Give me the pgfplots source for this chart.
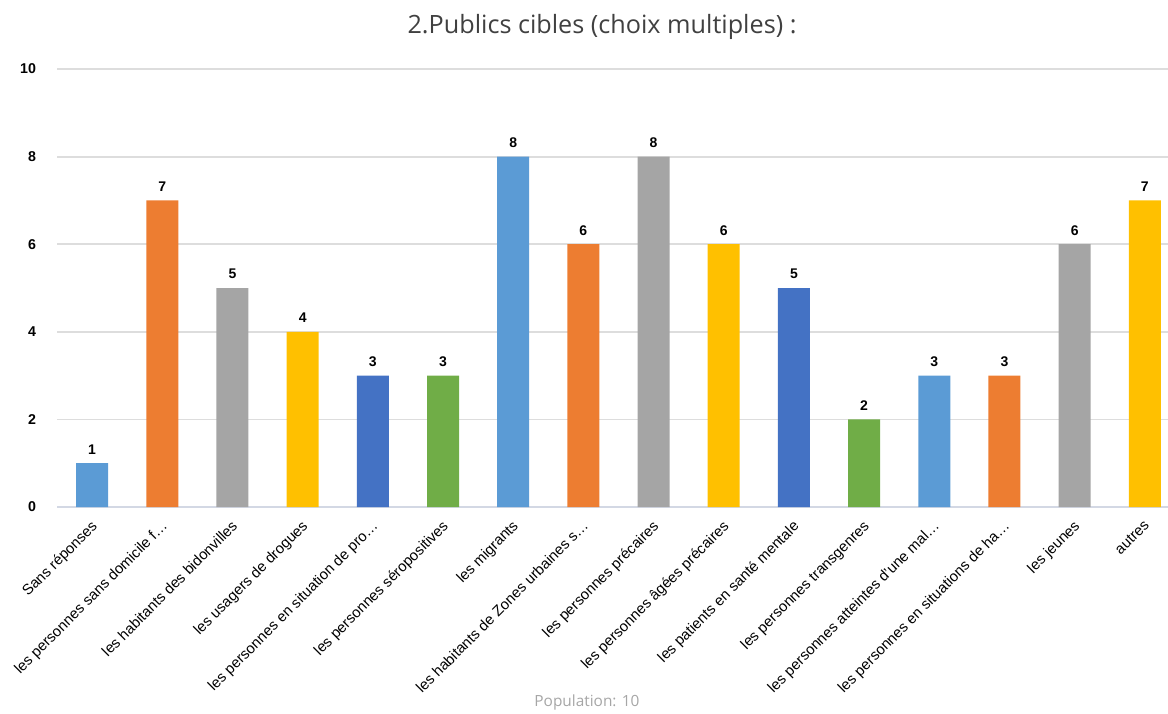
\documentclass[border=0pt]{standalone}
\usepackage{fontspec}
\setmainfont{Liberation Sans}
\newfontfamily\titlefont{Open Sans}
\usepackage{pgfplots}
\pgfplotsset{compat=1.18}
\definecolor{cA}{HTML}{5B9BD5}
\definecolor{cB}{HTML}{ED7D31}
\definecolor{cC}{HTML}{A5A5A5}
\definecolor{cD}{HTML}{FFC000}
\definecolor{cE}{HTML}{4472C4}
\definecolor{cF}{HTML}{70AD47}
\definecolor{gridc}{HTML}{DDDDDD}
\definecolor{axisc}{HTML}{D3D8E4}
\definecolor{titlec}{HTML}{404040}
\definecolor{popc}{HTML}{A6A6A6}
\begin{document}
\begin{tikzpicture}
\path[use as bounding box] (0,0) rectangle (584pt,-356.5pt);
\node[font=\titlefont\fontsize{12.6}{14}\selectfont, text=titlec] at (301pt,-13.5pt) {2.Publics cibles (choix multiples) :};
\node[font=\titlefont\fontsize{7.7}{9}\selectfont, text=popc] at (293.5pt,-351pt) {Population: 10};
\begin{axis}[
  at={(28.5pt,-253.5pt)}, anchor=south west,
  scale only axis, width=555.5pt, height=219pt,
  xmin=-0.5, xmax=15.33, ymin=0, ymax=10,
  ytick={0,2,4,6,8,10},
  xtick={0,...,15},
  xticklabels={Sans réponses, les personnes sans domicile f…, les habitants des bidonvilles, les usagers de drogues, les personnes en situation de pro…, les personnes séropositives, les migrants, les habitants de Zones urbaines s…, les personnes précaires, les personnes âgées précaires, les patients en santé mentale, les personnes transgenres, les personnes atteintes d'une mal…, les personnes en situations de ha…, les jeunes, autres},
  /pgf/number format/assume math mode=true,
  major tick length=0pt,
  ymajorgrids, major grid style={color=gridc, line width=0.9pt},
  axis x line*=bottom, axis y line*=left,
  x axis line style={draw=axisc, line width=0.9pt, -},
  y axis line style={draw=none},
  yticklabel style={font=\bfseries\fontsize{7.1}{8}\selectfont, anchor=east, xshift=-7pt},
  xticklabel style={font=\fontsize{7.4}{9}\selectfont, xshift=-0.9pt, yshift=-4.5pt, rotate=45, anchor=north east, inner sep=1pt},
  nodes near coords,
  nodes near coords style={font=\bfseries\fontsize{7}{8}\selectfont, anchor=south, yshift=1pt},
  every axis plot/.append style={ybar, bar width=16pt, bar shift=0pt, draw=none},
  clip=false,
]
\addplot[fill=cA] coordinates {(0,1) (6,8) (12,3)};
\addplot[fill=cB] coordinates {(1,7) (7,6) (13,3)};
\addplot[fill=cC] coordinates {(2,5) (8,8) (14,6)};
\addplot[fill=cD] coordinates {(3,4) (9,6) (15,7)};
\addplot[fill=cE] coordinates {(4,3) (10,5)};
\addplot[fill=cF] coordinates {(5,3) (11,2)};
\end{axis}
\end{tikzpicture}
\end{document}
